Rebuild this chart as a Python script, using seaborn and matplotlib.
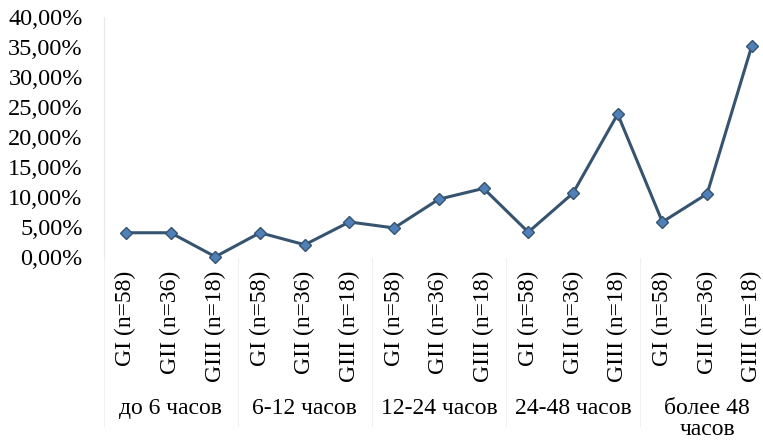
# Line chart: share by time interval and group
import numpy as np
import pandas as pd
import matplotlib
matplotlib.use("Agg")
import matplotlib.pyplot as plt
import matplotlib.transforms as mtransforms
import seaborn as sns

groups = ["до 6 часов", "6-12 часов", "12-24 часов", "24-48 часов", "более 48\nчасов"]
subgroups = ["GI (n=58)", "GII (n=36)", "GIII (n=18)"]
values = [4.0, 4.0, 0.0,
          4.0, 2.0, 5.8,
          4.8, 9.6, 11.4,
          4.1, 10.6, 23.8,
          5.8, 10.5, 35.2]
yticks = [0, 5, 10, 15, 20, 25, 30, 35, 40]

labels = [s for g in groups for s in subgroups]
df = pd.DataFrame({"pos": np.arange(len(values)), "value": values})

sns.set_theme(style="white")
plt.rcParams["font.family"] = ["Liberation Serif", "DejaVu Serif"]
plt.rcParams["text.color"] = "black"
plt.rcParams["xtick.color"] = "black"
plt.rcParams["ytick.color"] = "black"

fig = plt.figure(figsize=(7.63, 4.44), dpi=100)
ax = fig.add_axes([0.1357, 0.4218, 0.8643, 0.5399])

sns.lineplot(data=df, x="pos", y="value", ax=ax, color="#36536f", linewidth=2.2,
             marker="D", markersize=6, markerfacecolor="#4f80b8",
             markeredgecolor="#36536f", markeredgewidth=1.0, clip_on=False)

ax.set_xlim(-0.5, 14.25)
ax.set_ylim(0, 40)
ax.set_yticks(yticks)
ax.set_yticklabels([f"{t:.2f}".replace(".", ",") + "%" for t in yticks], fontsize=17.5)
ax.set_xticks(df["pos"])
ax.set_xticklabels(labels, rotation=90, fontsize=17, va="top")
ax.tick_params(axis="x", length=0, pad=10)
ax.tick_params(axis="y", length=0, pad=15)
ax.set_xlabel("")
ax.set_ylabel("")

for side in ["top", "right", "bottom"]:
    ax.spines[side].set_visible(False)
ax.spines["left"].set_color("#e8e8e8")
ax.spines["left"].set_linewidth(0.8)

trans = mtransforms.blended_transform_factory(ax.transData, fig.transFigure)
for i, g in enumerate(groups):
    ax.text(3 * i + 1, 0.1036, g, transform=trans, ha="center", va="top",
            fontsize=17, linespacing=1.0)

# faint group separators in the label area
for i in range(len(groups)):
    x = 3 * i - 0.5
    ax.plot([x, x], [0.04, 0.42], transform=trans, color="#f0f0f0", lw=0.8, clip_on=False)

fig.savefig("out.png", dpi=100)
